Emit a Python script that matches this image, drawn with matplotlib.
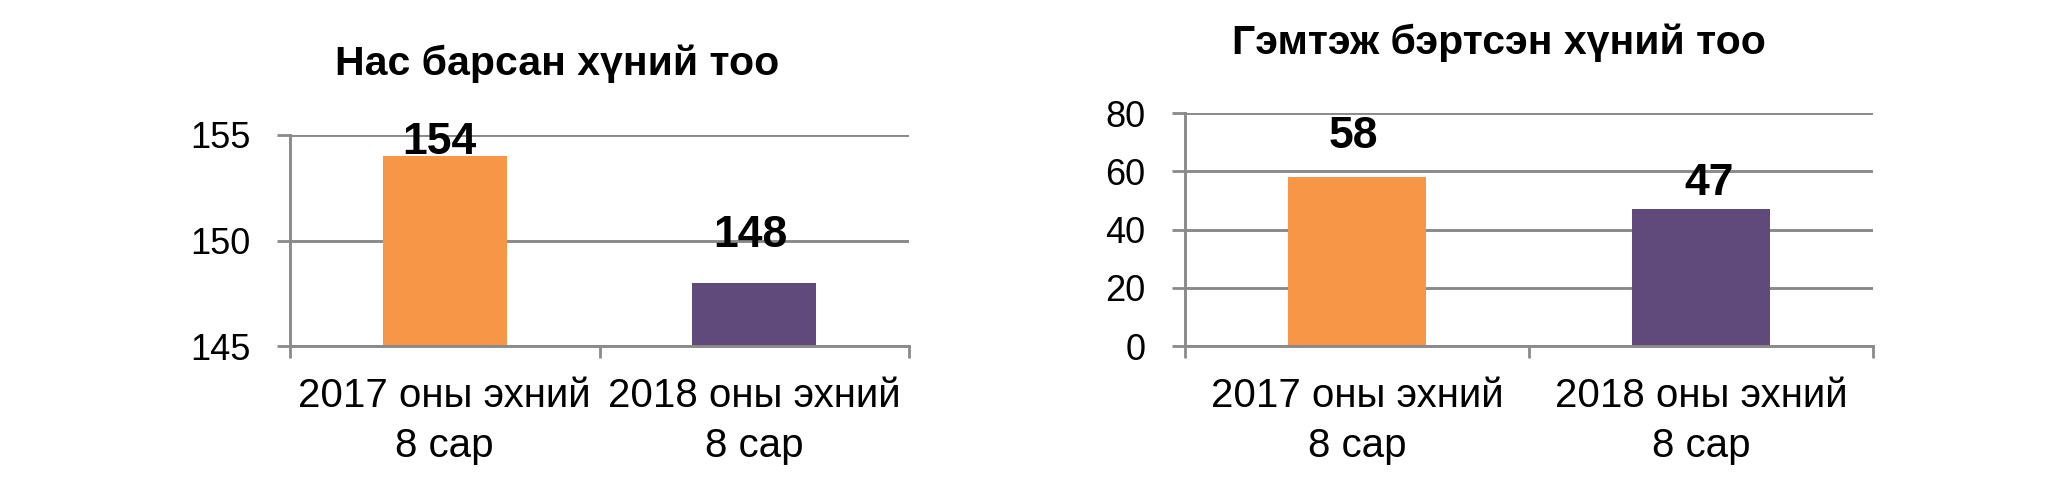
import matplotlib
matplotlib.use('Agg')
import matplotlib.pyplot as plt

# ---- data ----
categories = ['2017 оны эхний\n8 сар', '2018 оны эхний\n8 сар']
deaths = [154, 148]
injured = [58, 47]
death_ticks = [145, 150, 155]
injured_ticks = [0, 20, 40, 60, 80]
title_deaths = 'Нас барсан хүний тоо'
title_injured = 'Гэмтэж бэртсэн хүний тоо'

# ---- style ----
ORANGE = '#F79646'
PURPLE = '#604A7B'
GRID = '#8A8A8A'
plt.rcParams['font.family'] = ['Liberation Sans', 'DejaVu Sans']

# label offsets (points) relative to bar top-centre
death_label_offsets = [(-4.0, 1.2), (-2.5, 25.6)]
injured_label_offsets = [(-2.5, 20.9), (6.0, 10.0)]

fig = plt.figure(figsize=(20.48, 4.78), dpi=100)


def draw(ax, values, ticks, offsets):
    x = list(range(len(values)))
    ax.bar(x, values, width=0.4, color=[ORANGE, PURPLE], zorder=2)
    ax.set_xlim(-0.5, len(values) - 0.5)
    ax.set_ylim(ticks[0], ticks[-1])
    ax.set_yticks(ticks)
    ax.set_yticklabels([str(t) for t in ticks])
    ax.set_xticks([i - 0.5 for i in range(len(values) + 1)])
    ax.set_xticklabels([])
    ax.set_xticks(x, labels=categories, minor=True)
    ax.tick_params(axis='x', which='major', direction='out', length=8.6,
                   width=2, color=GRID)
    ax.tick_params(axis='x', which='minor', length=0, pad=22, labelsize=29)
    ax.tick_params(axis='y', direction='out', length=9.4, width=2,
                   color=GRID, pad=19, labelsize=26)
    for lab in ax.get_xticklabels(minor=True):
        lab.set_linespacing(1.4)
    ax.grid(axis='y', color=GRID, linewidth=2.1, zorder=0)
    ax.set_axisbelow(True)
    for s in ('top', 'right'):
        ax.spines[s].set_visible(False)
    for s in ('left', 'bottom'):
        ax.spines[s].set_color(GRID)
        ax.spines[s].set_linewidth(2.1)
    for xi, v, (dx, dy) in zip(x, values, offsets):
        ax.annotate(str(v), xy=(xi, v), xytext=(dx, dy),
                    textcoords='offset points', ha='center', va='baseline',
                    fontsize=32, fontweight='bold', color='black',
                    annotation_clip=False, zorder=5)


ax1 = fig.add_axes([290 / 2048, 132 / 478, 619 / 2048, 211 / 478])
draw(ax1, deaths, death_ticks, death_label_offsets)

ax2 = fig.add_axes([1185 / 2048, 132 / 478, 688.3 / 2048, 232.7 / 478])
draw(ax2, injured, injured_ticks, injured_label_offsets)

fig.text(556.7 / 2048, (478 - 75) / 478, title_deaths, ha='center',
         va='baseline', fontsize=29.5, fontweight='bold')
fig.text(1498.6 / 2048, (478 - 53.5) / 478, title_injured, ha='center',
         va='baseline', fontsize=29.5, fontweight='bold')

fig.savefig('out.png', dpi=100, facecolor='white')
